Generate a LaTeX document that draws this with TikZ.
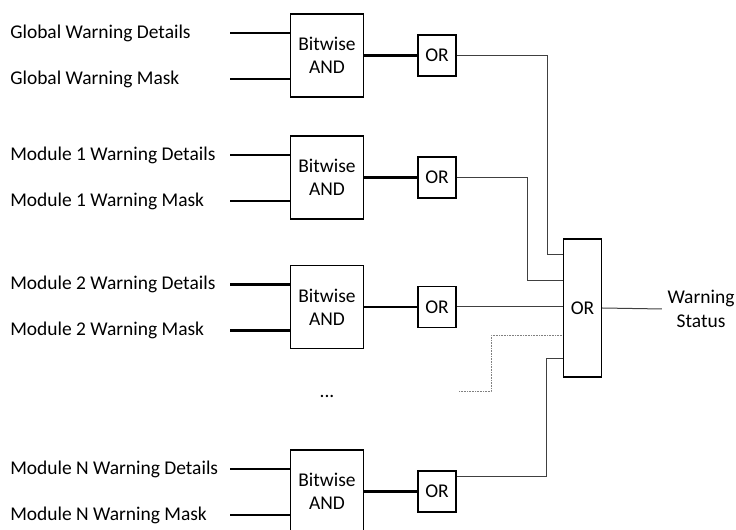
\documentclass[tikz,border=0pt]{standalone}
\usepackage{fontspec}
\setmainfont{Carlito}
\begin{document}
\begin{tikzpicture}[
    x=0.75pt, y=-0.75pt,
    every node/.style={font=\fontsize{14.6pt}{17.5pt}\selectfont},
    lbl/.style={anchor=west, inner sep=0pt},
    andbox/.style={rectangle, draw, line width=1pt, minimum width=54.75pt, minimum height=62.25pt, align=center, inner sep=0pt},
    orbox/.style={rectangle, draw, line width=1pt, minimum width=28.5pt, minimum height=30.75pt, inner sep=0pt},
    bus/.style={line width=1.8pt},
    wire/.style={line width=0.75pt, black!75},
    dotwire/.style={line width=0.75pt, gray, dash pattern=on 0.6pt off 0.6pt}
]
\useasboundingbox (0,0) rectangle (736,530);

\foreach \id/\name/\y in {g/Global/55.5, a/Module 1/177.5, b/Module 2/307, n/Module N/491.5} {
    \node[lbl] (\id det) at (10,\y-22.5) {\name\ Warning Details};
    \node[lbl] (\id msk) at (10,\y+23.5) {\name\ Warning Mask};
    \node[andbox] (and\id) at (327,\y) {Bitwise\\AND};
    \node[orbox] (or\id) at (437,\y) {OR};
    \coordinate (\id in1) at (230,\y-22.5);
    \coordinate (\id in2) at (230,\y+23.5);
    \draw[bus] (\id in1) -- (and\id.west |- \id in1);
    \draw[bus] (\id in2) -- (and\id.west |- \id in2);
    \draw[bus] (and\id) -- (or\id);
}

\node[orbox, minimum height=103.5pt] (orall) at (582.5,308) {OR};
\node[align=center, inner sep=4pt] (status) at (701,309) {Warning\\Status};
\node (dots) at (327,396) {...};
\coordinate (dotend) at (459,392);

\draw[wire] (org.east) -- ++(91,0) |- (orall.west |- 0,255);
\draw[wire] (ora.east) -- ++(71,0) |- (orall.west |- 0,281);
\draw[wire] (orb.east) -- (orall.west |- orb.east);
\draw[dotwire] (dotend) -- ++(32,0) |- (orall.west |- 0,336);
\draw[wire] ([yshift=-4.5pt]orn.north east) -- ++(90,0) |- (orall.west |- 0,359);
\draw[wire] (orall.east) -- (status.west);

\end{tikzpicture}
\end{document}
